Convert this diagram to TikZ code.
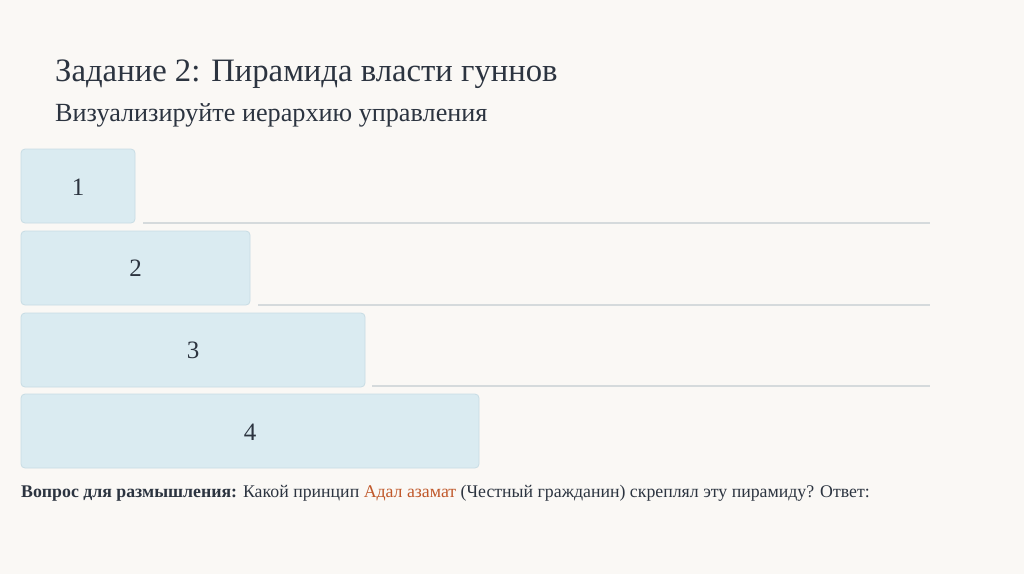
\documentclass[tikz,border=0pt]{standalone}
\usepackage{fontspec}
\setmainfont{Liberation Serif}
\definecolor{bg}{HTML}{FAF8F5}
\definecolor{boxfill}{HTML}{DAEBF1}
\definecolor{boxdraw}{HTML}{C8DCE4}
\definecolor{ink}{HTML}{2C3440}
\definecolor{rule}{HTML}{D5DADC}
\definecolor{accent}{HTML}{C0582A}
\begin{document}
\begin{tikzpicture}[x=1pt,y=-1pt,
  lvl/.style={draw=boxdraw,fill=boxfill,rounded corners=4pt,line width=0.8pt},
  num/.style={text=ink,font=\fontsize{25}{28}\selectfont},
  ansline/.style={draw=rule,line width=1.2pt}]
\fill[bg] (0,0) rectangle (1024,574);
\useasboundingbox (0,0) rectangle (1024,574);
\node[anchor=base west,text=ink,font=\fontsize{32.7}{36}\selectfont,inner sep=0] (title) at (55,81) {Задание 2: Пирамида власти гуннов};
\node[anchor=base west,text=ink,font=\fontsize{26.2}{30}\selectfont,inner sep=0] (sub) at (55,121) {Визуализируйте иерархию управления};
\draw[lvl] (21,149) rectangle (135,223);
\node[num] (n1) at (78,187) {1};
\draw[lvl] (21,231) rectangle (250,305);
\node[num] (n2) at (135.5,268) {2};
\draw[lvl] (21,313) rectangle (365,387);
\node[num] (n3) at (193,350) {3};
\draw[lvl] (21,394) rectangle (479,468);
\node[num] (n4) at (250,432) {4};
\coordinate (a1) at (143,223); \coordinate (b1) at (930,223);
\coordinate (a2) at (258,305); \coordinate (b2) at (930,305);
\coordinate (a3) at (372,386); \coordinate (b3) at (930,386);
\draw[ansline] (a1) -- (b1);
\draw[ansline] (a2) -- (b2);
\draw[ansline] (a3) -- (b3);
\node[anchor=base west,text=ink,font=\fontsize{17.8}{21}\selectfont,inner sep=0] (q) at (21,497) {\textbf{Вопрос для размышления:} Какой принцип \textcolor{accent}{Адал азамат} (Честный гражданин) скреплял эту пирамиду? Ответ:};
\end{tikzpicture}
\end{document}
